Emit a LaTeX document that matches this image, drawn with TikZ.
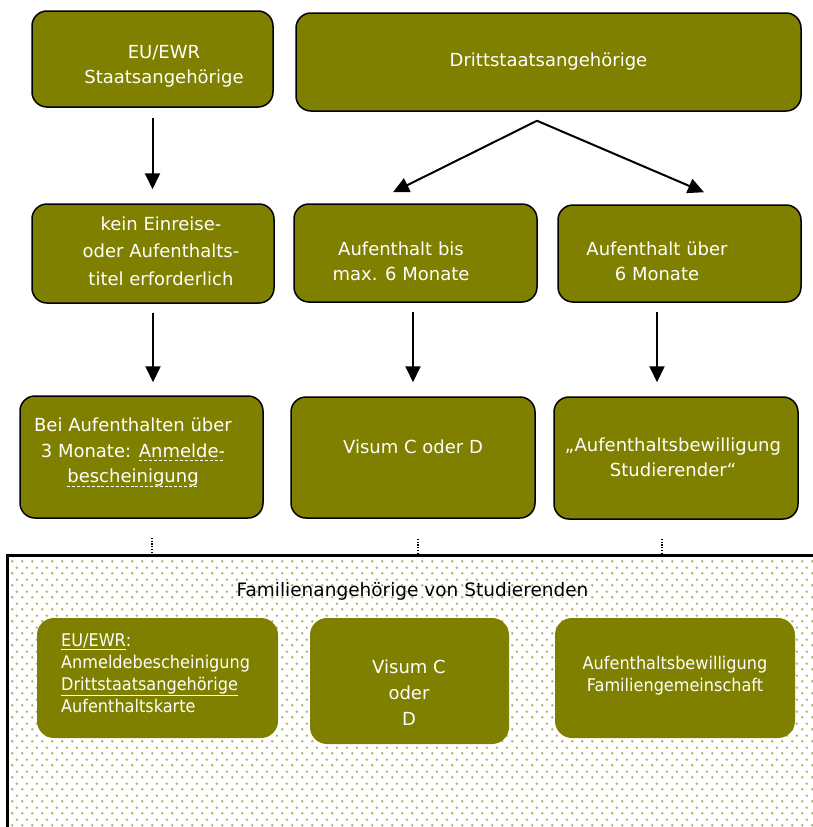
\documentclass[tikz,border=0pt]{standalone}
\usepackage{fontspec}
\setmainfont{DejaVu Sans}
\newfontfamily\famfont[FakeStretch=0.92]{DejaVu Sans}
\usetikzlibrary{arrows.meta,patterns}
\definecolor{olivec}{RGB}{128,128,0}
\definecolor{dotc}{RGB}{176,176,112}
\pgfdeclarepatternformonly{olivedots}{\pgfqpoint{0pt}{0pt}}{\pgfqpoint{10pt}{12pt}}{\pgfqpoint{10pt}{12pt}}{%
  \pgfpathcircle{\pgfqpoint{2.5pt}{3pt}}{1.45pt}%
  \pgfpathcircle{\pgfqpoint{7.5pt}{9pt}}{1.45pt}%
  \pgfusepath{fill}}
\newsavebox\ulbox
\newcommand\dashul[1]{\sbox\ulbox{#1}\rlap{\raisebox{-3.5pt}{\makebox[\wd\ulbox][l]{\xleaders\hbox{\rule{3pt}{0.9pt}\hspace{1.8pt}}\hfill}}}#1}
\tikzset{
  box/.style={draw=black, line width=1.5pt, fill=olivec, rounded corners=15pt, inner sep=0pt},
  fambox/.style={fill=olivec, rounded corners=17pt, inner sep=0pt},
  txt/.style={text=white, align=center, inner sep=0pt, font=\fontsize{18}{25.5}\selectfont},
  ftxt/.style={text=white, inner sep=0pt, font=\famfont\fontsize{17.5}{22}\selectfont},
  arr/.style={line width=2pt, -{Triangle[width=15pt,length=16pt]}},
  dotline/.style={line width=1.2pt, dash pattern=on 1.2pt off 1.6pt},
}
\begin{document}
\begin{tikzpicture}[x=1pt,y=-1pt]
\useasboundingbox (0,0) rectangle (813,827);
\clip (0,0) rectangle (813,827);
\fill[white] (0,0) rectangle (813,827);

% family frame
\node (fam) [minimum width=822pt, minimum height=284pt, inner sep=0pt, pattern=olivedots, pattern color=dotc] at (419,698) {};
\draw[line width=2.8pt] (fam.south west) -- (fam.north west) -- (fam.north east);

% boxes
\node (b1) [box, minimum width=241pt, minimum height=96pt] at (152.5,59) {};
\node (b2) [box, minimum width=505pt, minimum height=98pt] at (548.5,62) {};
\node (b3) [box, minimum width=242pt, minimum height=99pt] at (153,253.5) {};
\node (b4) [box, minimum width=243pt, minimum height=98pt] at (415.5,253) {};
\node (b5) [box, minimum width=243pt, minimum height=97pt] at (679.5,253.5) {};
\node (b6) [box, minimum width=243pt, minimum height=122pt] at (141.5,457) {};
\node (b7) [box, minimum width=244pt, minimum height=121pt] at (413,457.5) {};
\node (b8) [box, minimum width=244pt, minimum height=122pt] at (676,458) {};

\node (fa) [fambox, minimum width=241pt, minimum height=120pt] at (157.5,678) {};
\node (fb) [fambox, minimum width=199pt, minimum height=126pt] at (409.5,681) {};
\node (fc) [fambox, minimum width=240pt, minimum height=120pt] at (675,678) {};

% texts
\node (t1) [txt] at (164,66.5) {EU/EWR\\Staatsangehörige};
\node (t2) [txt] at (548.5,62) {Drittstaatsangehörige};
\node (t3) [txt, font=\fontsize{18}{27.5}\selectfont] at (161,251) {kein Einreise-\\oder Aufenthalts-\\titel erforderlich};
\node (t4) [txt, font=\fontsize{18}{25}\selectfont] at (401,261) {Aufenthalt bis\\max. 6 Monate};
\node (t5) [txt, font=\fontsize{18}{25}\selectfont] at (657,261) {Aufenthalt über\\6 Monate};
\node (t6) [txt] at (133,452.5) {Bei Aufenthalten über\\3 Monate: \dashul{Anmelde-}\\\dashul{bescheinigung}};
\node (t7) [txt] at (413,447) {Visum C oder D};
\node (t8) [txt, font=\fontsize{18}{24.5}\selectfont] at (673,457.5) {„Aufenthaltsbewilligung\\Studierender“};

\node (title) [inner sep=0pt, font=\fontsize{18.5}{22}\selectfont] at (412.5,591) {Familienangehörige von Studierenden};
\node (fta) [ftxt, align=left, anchor=west] at (61,673) {\underline{EU/EWR}:\\Anmeldebescheinigung\\\underline{Drittstaatsangehörige}\\Aufenthaltskarte};
\node (ftb) [txt, font=\fontsize{18}{26}\selectfont] at (409,693) {Visum C\\oder\\D};
\node (ftc) [ftxt, align=center] at (675,676) {Aufenthaltsbewilligung\\Familiengemeinschaft};

% connectors
\draw[arr, shorten <=10pt, shorten >=14pt] (b1.south) -- (b1.south |- b3.north);
\coordinate (apex) at ([xshift=-11.5pt,yshift=-9pt]b2.south);
\draw[arr] (apex) -- ([xshift=-22.5pt,yshift=11pt]b4.north);
\draw[arr] (apex) -- ([xshift=24.5pt,yshift=12pt]b5.north);
\draw[arr, shorten <=9pt, shorten >=13pt] (b3.south) -- (b3.south |- b6.north);
\draw[arr, shorten <=9pt, shorten >=14pt] (b7.north |- b4.south) -- (b7.north);
\draw[arr, shorten <=9pt, shorten >=14pt] ([xshift=-22.5pt]b5.south) -- ([xshift=-22.5pt]b5.south |- b8.north);

\draw[dotline] ([xshift=10.5pt,yshift=-19pt]b6.south) -- ([xshift=10.5pt]b6.south |- fam.north);
\draw[dotline] ([xshift=5pt,yshift=-20pt]b7.south) -- ([xshift=5pt]b7.south |- fam.north);
\draw[dotline] ([xshift=-14pt,yshift=-19pt]b8.south) -- ([xshift=-14pt]b8.south |- fam.north);
\end{tikzpicture}
\end{document}
